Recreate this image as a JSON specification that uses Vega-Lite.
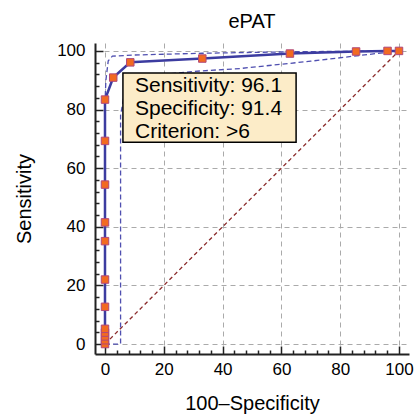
{
  "$schema": "https://vega.github.io/schema/vega-lite/v6.json",
  "width": 314,
  "height": 311,
  "autosize": {"type": "none"},
  "padding": {"left": 95, "top": 43, "right": 7, "bottom": 62},
  "background": "white",
  "config": {
    "view": {"stroke": null},
    "font": "Liberation Sans",
    "axis": {
      "domainColor": "#222222",
      "domainWidth": 2,
      "tickColor": "#222222",
      "tickWidth": 1.5,
      "labelFont": "Liberation Sans",
      "labelFontSize": 17,
      "labelColor": "black",
      "titleFont": "Liberation Sans",
      "titleFontSize": 20,
      "titleFontWeight": "normal",
      "titleColor": "black",
      "gridColor": "#aaaaaa",
      "gridDash": [5, 4],
      "gridWidth": 1,
      "labelOverlap": false,
      "labelFlush": false,
      "labelBound": false
    }
  },
  "title": {"text": "ePAT", "fontSize": 20, "fontWeight": "normal", "font": "Liberation Sans", "color": "black", "offset": 10},
  "datasets": {
    "roc": [
      {"i": 0, "x": 0, "y": 0},
      {"i": 1, "x": 0, "y": 1.3},
      {"i": 2, "x": 0, "y": 2.6},
      {"i": 3, "x": 0, "y": 3.9},
      {"i": 4, "x": 0, "y": 5.2},
      {"i": 5, "x": 0, "y": 12.7},
      {"i": 6, "x": 0, "y": 22.0},
      {"i": 7, "x": 0, "y": 35.1},
      {"i": 8, "x": 0, "y": 41.5},
      {"i": 9, "x": 0, "y": 54.4},
      {"i": 10, "x": 0, "y": 69.3},
      {"i": 11, "x": 0, "y": 83.4},
      {"i": 12, "x": 2.8, "y": 90.9},
      {"i": 13, "x": 8.6, "y": 96.1},
      {"i": 14, "x": 33.1, "y": 97.4},
      {"i": 15, "x": 62.9, "y": 99.1},
      {"i": 16, "x": 85.4, "y": 99.8},
      {"i": 17, "x": 96.1, "y": 100},
      {"i": 18, "x": 100, "y": 100}
    ],
    "bands": [
      {"band": "upper", "i": 0, "x": 0, "y": 0},
      {"band": "upper", "i": 1, "x": 0, "y": 60},
      {"band": "upper", "i": 2, "x": 0, "y": 82},
      {"band": "upper", "i": 3, "x": 0.3, "y": 90},
      {"band": "upper", "i": 4, "x": 1.1, "y": 96.6},
      {"band": "upper", "i": 5, "x": 2.5, "y": 98.2},
      {"band": "upper", "i": 6, "x": 10, "y": 98.6},
      {"band": "upper", "i": 7, "x": 33, "y": 99.2},
      {"band": "upper", "i": 8, "x": 63, "y": 99.7},
      {"band": "upper", "i": 9, "x": 100, "y": 100},
      {"band": "lower", "i": 0, "x": 0, "y": 0},
      {"band": "lower", "i": 1, "x": 5.3, "y": 0},
      {"band": "lower", "i": 2, "x": 5.3, "y": 78},
      {"band": "lower", "i": 3, "x": 6.5, "y": 85},
      {"band": "lower", "i": 4, "x": 9, "y": 89},
      {"band": "lower", "i": 5, "x": 15, "y": 91.5},
      {"band": "lower", "i": 6, "x": 30, "y": 93},
      {"band": "lower", "i": 7, "x": 46, "y": 94},
      {"band": "lower", "i": 8, "x": 70, "y": 96.5},
      {"band": "lower", "i": 9, "x": 100, "y": 100}
    ],
    "diag": [
      {"i": 0, "x": 0, "y": 0},
      {"i": 1, "x": 100, "y": 100}
    ],
    "box": [
      {"x": 6.1, "x2": 65, "y": 92.5, "y2": 68.8}
    ],
    "labels": [
      {"x": 10.2, "y": 88.2, "text": "Sensitivity: 96.1"},
      {"x": 10.2, "y": 80.3, "text": "Specificity: 91.4"},
      {"x": 10.2, "y": 72.3, "text": "Criterion: >6"}
    ]
  },
  "encoding": {
    "x": {
      "field": "x",
      "type": "quantitative",
      "scale": {"domain": [-3.4, 103.4], "nice": false, "zero": false},
      "axis": {
        "title": "100–Specificity",
        "values": [0, 4, 8, 12, 16, 20, 24, 28, 32, 36, 40, 44, 48, 52, 56, 60, 64, 68, 72, 76, 80, 84, 88, 92, 96, 100],
        "labelExpr": "datum.value % 20 === 0 ? datum.label : ''",
        "tickSize": {"condition": {"test": "datum.value % 20 === 0", "value": -8}, "value": -4},
        "gridOpacity": {"condition": {"test": "datum.value % 20 === 0", "value": 1}, "value": 0},
        "labelPadding": 15,
        "titlePadding": 12
      }
    },
    "y": {
      "field": "y",
      "type": "quantitative",
      "scale": {"domain": [-3.4, 102.7], "nice": false, "zero": false},
      "axis": {
        "title": "Sensitivity",
        "values": [0, 4, 8, 12, 16, 20, 24, 28, 32, 36, 40, 44, 48, 52, 56, 60, 64, 68, 72, 76, 80, 84, 88, 92, 96, 100],
        "labelExpr": "datum.value % 20 === 0 ? datum.label : ''",
        "tickSize": {"condition": {"test": "datum.value % 20 === 0", "value": -8}, "value": -4},
        "gridOpacity": {"condition": {"test": "datum.value % 20 === 0", "value": 1}, "value": 0},
        "labelPadding": 18,
        "titlePadding": 22
      }
    }
  },
  "layer": [
    {
      "data": {"name": "diag"},
      "mark": {"type": "line", "color": "#8b2b2b", "strokeWidth": 1.3, "strokeDash": [4, 3]},
      "encoding": {"order": {"field": "i"}}
    },
    {
      "data": {"name": "bands"},
      "mark": {"type": "line", "color": "#4f4fb0", "strokeWidth": 1.3, "strokeDash": [5, 3]},
      "encoding": {"detail": {"field": "band"}, "order": {"field": "i"}}
    },
    {
      "data": {"name": "roc"},
      "mark": {"type": "line", "color": "#3c3ca0", "strokeWidth": 2.5},
      "encoding": {"order": {"field": "i"}}
    },
    {
      "data": {"name": "roc"},
      "mark": {"type": "point", "shape": "square", "filled": true, "size": 56, "fill": "#f26a21", "stroke": "#b0487a", "strokeWidth": 1, "opacity": 1}
    },
    {
      "data": {"name": "box"},
      "mark": {"type": "rect", "fill": "#fcecc8", "stroke": "black", "strokeWidth": 1.5},
      "encoding": {"x2": {"field": "x2"}, "y2": {"field": "y2"}}
    },
    {
      "data": {"name": "labels"},
      "mark": {"type": "text", "align": "left", "baseline": "middle", "fontSize": 21, "font": "Liberation Sans", "color": "black"},
      "encoding": {"text": {"field": "text"}}
    }
  ]
}
